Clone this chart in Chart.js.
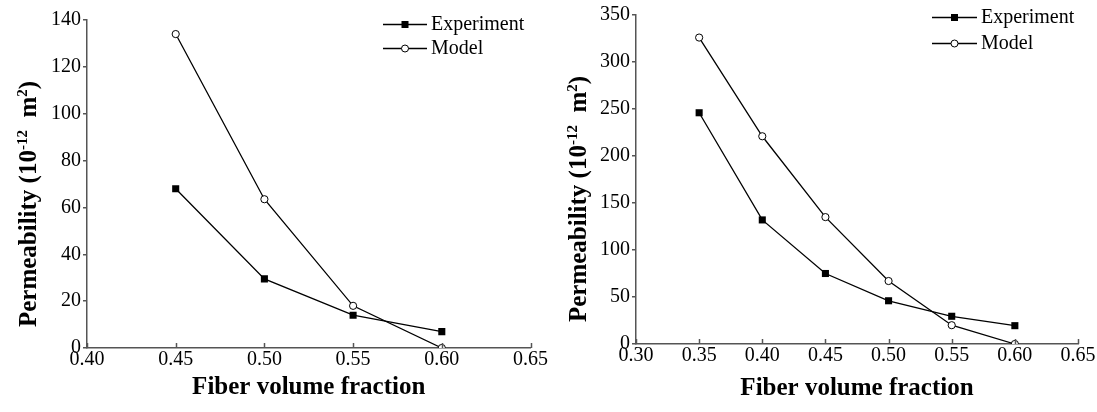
<!DOCTYPE html>
<html>
<head>
<meta charset="utf-8">
<script src="https://cdn.jsdelivr.net/npm/chart.js@4.4.1/dist/chart.umd.min.js"></script>
<style>
  html,body{margin:0;padding:0;background:#fff;}
  #wrap{position:relative;width:1097px;height:412px;overflow:hidden;}
  canvas{position:absolute;top:0;}
</style>
</head>
<body>
<div id="wrap">
  <canvas id="c1" width="548" height="412" style="left:0"></canvas>
  <canvas id="c2" width="549" height="412" style="left:548px"></canvas>
</div>
<script>
// ---- data ----
const seriesNames = ['Experiment', 'Model'];
const leftX = [0.45, 0.50, 0.55, 0.60];
const leftExperiment = [68, 29.5, 14, 7];
const leftModel = [134, 63.5, 18, 0];
const rightX = [0.35, 0.40, 0.45, 0.50, 0.55, 0.60];
const rightExperiment = [246, 132, 75, 46, 29.5, 19.5];
const rightModel = [326, 221, 135, 67, 20, 0];
const xTitle = 'Fiber volume fraction';
const yTitleParts = ['Permeability (10', '-12', '  m', '2', ')'];

const FONT = '"Liberation Serif", "Times New Roman", serif';
const AXIS = '#555';

function pts(xs, ys){ return xs.map((x,i)=>({x:x, y:ys[i]})); }

const decoPlugin = {
  id: 'deco',
  afterDraw(chart, args, o) {
    const ctx = chart.ctx, xs = chart.scales.x, ca = chart.chartArea;
    ctx.save();
    // inward x ticks
    ctx.strokeStyle = AXIS; ctx.lineWidth = 1.5;
    xs.ticks.forEach(t => {
      const px = Math.round(xs.getPixelForValue(t.value)) + 0.5;
      ctx.beginPath(); ctx.moveTo(px, ca.bottom); ctx.lineTo(px, ca.bottom - 5); ctx.stroke();
    });
    // x title
    ctx.fillStyle = '#000';
    ctx.font = 'bold 25px ' + FONT;
    ctx.textAlign = 'center'; ctx.textBaseline = 'middle';
    ctx.fillText(xTitle, (ca.left + ca.right) / 2, o.xTitleY);
    // y title with superscripts
    ctx.save();
    ctx.translate(o.yTitleX, o.yTitleY);
    ctx.rotate(-Math.PI / 2);
    ctx.textAlign = 'left'; ctx.textBaseline = 'alphabetic';
    const segs = yTitleParts.map((t, i) => ({t, sup: i % 2 === 1}));
    let total = 0;
    segs.forEach(s => { ctx.font = (s.sup ? 'bold 15px ' : 'bold 25px ') + FONT; s.w = ctx.measureText(s.t).width; total += s.w; });
    let cx = -total / 2;
    segs.forEach(s => {
      ctx.font = (s.sup ? 'bold 15px ' : 'bold 25px ') + FONT;
      ctx.fillText(s.t, cx, s.sup ? -1 : 8);
      cx += s.w;
    });
    ctx.restore();
    // legend
    ctx.font = '20px ' + FONT;
    ctx.textAlign = 'left'; ctx.textBaseline = 'middle';
    chart.data.datasets.forEach((ds, i) => {
      const y = o.legY[i];
      ctx.strokeStyle = '#000'; ctx.lineWidth = 1.3;
      ctx.beginPath(); ctx.moveTo(o.legX1, y + 0.5); ctx.lineTo(o.legX2, y + 0.5); ctx.stroke();
      const mx = (o.legX1 + o.legX2) / 2;
      if (ds.pointStyle === 'rect') {
        ctx.fillStyle = '#000'; ctx.fillRect(mx - 3.5, y - 3, 7, 7);
      } else {
        ctx.fillStyle = '#fff'; ctx.lineWidth = 1;
        ctx.beginPath(); ctx.arc(mx, y + 0.5, 3.5, 0, Math.PI * 2); ctx.fill(); ctx.stroke();
      }
      ctx.fillStyle = '#000';
      ctx.fillText(ds.label, o.legX2 + 4, y + 1);
    });
    ctx.restore();
  }
};

function makeChart(id, xs, exp, mod, xMin, xMax, yMax, yStep, pad, yW, xH, decoOpts) {
  const dsBase = {borderColor: '#000', borderWidth: 1.3, showLine: true, clip: {left: 10, right: 10, top: 10, bottom: 0}};
  return new Chart(document.getElementById(id), {
    type: 'scatter',
    data: {
      datasets: [
        Object.assign({}, dsBase, {label: seriesNames[0], data: pts(xs, exp), pointStyle: 'rect', pointRadius: 5, backgroundColor: '#000', pointBorderWidth: 0}),
        Object.assign({}, dsBase, {label: seriesNames[1], data: pts(xs, mod), pointStyle: 'circle', pointRadius: 3.6, backgroundColor: '#fff', pointBorderColor: '#000', pointBorderWidth: 1})
      ]
    },
    options: {
      responsive: false, animation: false, devicePixelRatio: 1,
      layout: {padding: pad},
      plugins: {legend: {display: false}, tooltip: {enabled: false}, deco: decoOpts},
      scales: {
        x: {
          type: 'linear', min: xMin, max: xMax,
          ticks: {stepSize: 0.05, color: '#000', font: {family: FONT, size: 20}, padding: 0, maxRotation: 0,
                  callback: v => v.toFixed(2)},
          grid: {display: true, drawOnChartArea: false, drawTicks: false, color: AXIS},
          border: {display: true, color: AXIS, width: 1.5},
          afterFit: s => { s.height = xH; }
        },
        y: {
          type: 'linear', min: 0, max: yMax,
          ticks: {stepSize: yStep, color: '#000', font: {family: FONT, size: 20}, padding: 2},
          grid: {display: true, drawOnChartArea: false, drawTicks: true, tickLength: 4, color: AXIS, lineWidth: 1.5},
          border: {display: true, color: AXIS, width: 1.5},
          afterFit: s => { s.width = yW; }
        }
      }
    },
    plugins: [decoPlugin]
  });
}

makeChart('c1', leftX, leftExperiment, leftModel, 0.40, 0.65, 140, 20,
  {left: 0, top: 20, right: 17, bottom: 0}, 87, 64,
  {xTitleY: 388, yTitleX: 28, yTitleY: 204, legX1: 383, legX2: 427, legY: [24, 48]});
makeChart('c2', rightX, rightExperiment, rightModel, 0.30, 0.65, 350, 50,
  {left: 0, top: 15, right: 19, bottom: 0}, 88, 68,
  {xTitleY: 389, yTitleX: 29.5, yTitleY: 199, legX1: 384, legX2: 429, legY: [17, 43]});
</script>
</body>
</html>
